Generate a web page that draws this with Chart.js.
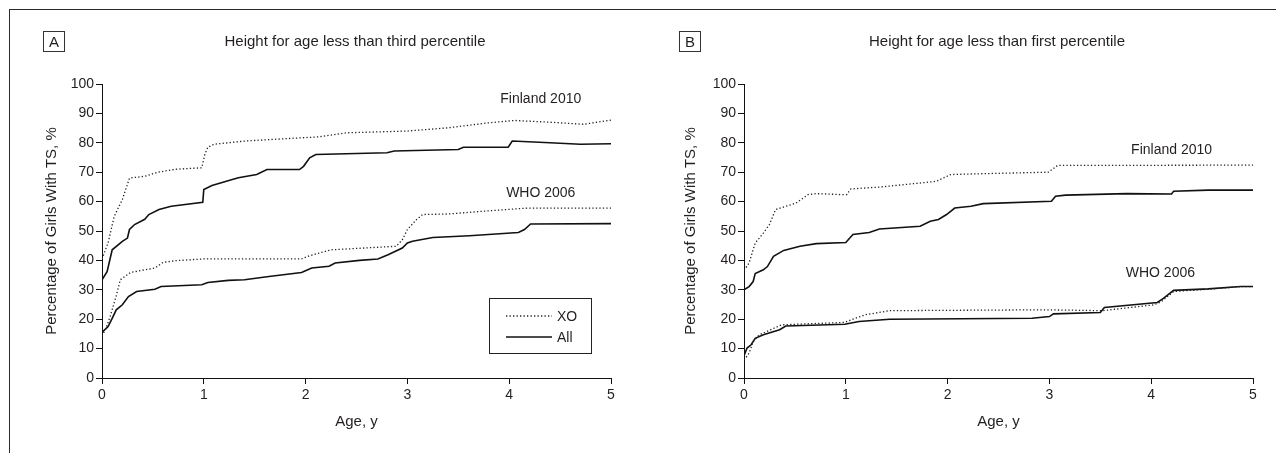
<!DOCTYPE html>
<html><head><meta charset="utf-8">
<script src="https://cdn.jsdelivr.net/npm/chart.js@4.4.0/dist/chart.umd.min.js"></script>
<style>
html,body{margin:0;padding:0;background:#fff;}
#wrap{position:relative;width:1276px;height:453px;overflow:hidden;background:#fff;}
#frame{position:absolute;left:9px;top:9px;width:1400px;height:600px;border-top:1.5px solid #2a2a2a;border-left:1.5px solid #2a2a2a;}
canvas{position:absolute;top:0;}
</style></head><body>
<div id="wrap"><div id="frame"></div>
<canvas id="cA" width="638" height="453" style="left:0px"></canvas>
<canvas id="cB" width="638" height="453" style="left:638px"></canvas>
</div>
<script>
// ---------- data ----------
const xTickValues = [0, 1, 2, 3, 4, 5];
const yTickValues = [0, 10, 20, 30, 40, 50, 60, 70, 80, 90, 100];
const seriesNames = ["XO", "All"];
const panelTitles = ["Height for age less than third percentile", "Height for age less than first percentile"];
const panelLetters = ["A", "B"];
const refLabels = ["Finland 2010", "WHO 2006"];

// Panel A
const aFinXO_x = [0, 0.06, 0.12, 0.2, 0.27, 0.42, 0.55, 0.72, 0.98, 1.01, 1.04, 1.1, 1.4, 1.8, 2.12, 2.4, 3.0, 3.4, 3.8, 4.05, 4.4, 4.73, 5];
const aFinXO_y = [40.5, 46, 55, 60.7, 68, 68.6, 70, 71, 71.5, 76, 78.5, 79.5, 80.6, 81.4, 82, 83.4, 84, 85.1, 86.8, 87.6, 87, 86.3, 87.7];
const aFinAll_x = [0, 0.05, 0.1, 0.2, 0.25, 0.27, 0.32, 0.42, 0.46, 0.56, 0.68, 0.99, 1.0, 1.08, 1.28, 1.34, 1.52, 1.62, 1.94, 1.98, 2.04, 2.1, 2.8, 2.87, 3.5, 3.55, 3.99, 4.03, 4.4, 4.7, 5];
const aFinAll_y = [33.4, 36.2, 43.6, 46.5, 47.6, 50.5, 52.2, 54, 55.6, 57.3, 58.4, 59.8, 64.1, 65.5, 67.5, 68.1, 69.2, 70.9, 70.9, 72, 74.9, 76, 76.6, 77.2, 77.7, 78.5, 78.5, 80.6, 80, 79.5, 79.7];
const aWhoXO_x = [0, 0.04, 0.08, 0.14, 0.18, 0.28, 0.42, 0.52, 0.6, 0.72, 1.0, 1.96, 2.04, 2.25, 2.41, 2.89, 2.95, 3.0, 3.09, 3.15, 3.41, 3.81, 4.05, 4.19, 5];
const aWhoXO_y = [14.3, 17, 20.9, 28, 33.4, 35.9, 36.8, 37.4, 39.3, 39.9, 40.5, 40.5, 41.6, 43.6, 43.9, 44.8, 47, 50.5, 53.9, 55.6, 55.8, 56.9, 57.5, 57.8, 57.8];
const aWhoAll_x = [0, 0.06, 0.1, 0.14, 0.2, 0.26, 0.34, 0.52, 0.58, 0.98, 1.04, 1.24, 1.4, 1.64, 1.96, 2.06, 2.23, 2.29, 2.53, 2.71, 2.81, 2.95, 3.0, 3.05, 3.13, 3.25, 3.61, 4.09, 4.15, 4.21, 5];
const aWhoAll_y = [15.5, 17.5, 20.3, 23.2, 24.9, 27.7, 29.4, 30.2, 31.1, 31.7, 32.5, 33.2, 33.4, 34.5, 35.9, 37.4, 38, 39.1, 40, 40.5, 41.9, 44.2, 45.9, 46.5, 47, 47.8, 48.4, 49.5, 50.5, 52.4, 52.5];

// Panel B
const bFinXO_x = [0, 0.05, 0.11, 0.19, 0.25, 0.31, 0.43, 0.51, 0.63, 0.71, 0.95, 1.01, 1.05, 1.35, 1.75, 1.89, 2.03, 2.35, 2.99, 3.08, 5];
const bFinXO_y = [36.6, 39.1, 45.9, 49.3, 52.2, 57.3, 58.6, 59.5, 62.4, 62.7, 62.4, 62.4, 64.3, 65, 66.4, 66.9, 69.2, 69.5, 70, 72.3, 72.4];
const bFinAll_x = [0, 0.05, 0.09, 0.11, 0.19, 0.23, 0.29, 0.39, 0.55, 0.71, 1.0, 1.07, 1.23, 1.33, 1.73, 1.83, 1.91, 1.99, 2.07, 2.23, 2.35, 3.02, 3.06, 3.16, 3.76, 4.2, 4.22, 4.56, 5];
const bFinAll_y = [30, 31.1, 32.8, 35.5, 36.8, 37.9, 41.4, 43.4, 44.8, 45.7, 46.1, 48.8, 49.5, 50.7, 51.6, 53.3, 53.9, 55.6, 57.8, 58.4, 59.3, 60.1, 61.8, 62.2, 62.7, 62.6, 63.5, 63.9, 63.9];
const bWhoXO_x = [0, 0.05, 0.09, 0.15, 0.37, 0.99, 1.07, 1.19, 1.43, 2.96, 3.52, 4.03, 4.1, 4.22, 4.56, 4.88, 5];
const bWhoXO_y = [6.1, 8.4, 12.4, 14.7, 18.1, 18.9, 20, 21.5, 22.9, 23.2, 22.9, 24.9, 26, 29.4, 30.2, 31.1, 31.1];
const bWhoAll_x = [0, 0.03, 0.07, 0.11, 0.19, 0.35, 0.41, 0.99, 1.13, 1.43, 2.83, 3.0, 3.04, 3.5, 3.54, 4.06, 4.12, 4.22, 4.56, 4.88, 5];
const bWhoAll_y = [7.6, 10.2, 11.3, 13.5, 14.7, 16.4, 17.7, 18.3, 19.2, 20, 20.3, 20.9, 21.8, 22.3, 24, 25.7, 27.1, 29.8, 30.3, 31.1, 31.1];

// reference-label anchor positions (data units)
const aNoteX = [4.31, 4.31], aNoteY = [95, 63];
const bNoteX = [4.2, 4.09], bNoteY = [77.5, 35.7];

// ---------- styling ----------
const FONT = "'Liberation Sans', Arial, 'Helvetica', sans-serif";
const TXT = '#231f20';
const pts = (xs, ys) => xs.map((x, i) => ({x: x, y: ys[i]}));
const dotted = {borderColor: '#222', borderWidth: 1.3, borderDash: [1.3, 2.2], pointRadius: 0, tension: 0, fill: false};
const solid = {borderColor: '#111', borderWidth: 1.6, pointRadius: 0, tension: 0, fill: false};

const deco = {
  id: 'deco',
  afterDraw(chart, args, o) {
    const ctx = chart.ctx, xs = chart.scales.x, ys = chart.scales.y;
    ctx.save();
    ctx.fillStyle = TXT;
    ctx.textAlign = 'center';
    ctx.textBaseline = 'middle';
    ctx.font = '15px ' + FONT;
    ctx.fillText(o.title, o.titleX, o.titleY);
    ctx.strokeStyle = '#333';
    ctx.lineWidth = 1;
    ctx.strokeRect(o.boxX + 0.5, o.boxY + 0.5, 21, 20);
    ctx.fillText(o.letter, o.boxX + 11, o.boxY + 11.5);
    ctx.font = '14px ' + FONT;
    o.notes.forEach(n => ctx.fillText(n.text, xs.getPixelForValue(n.x), ys.getPixelForValue(n.y)));
    if (o.legend) {
      const L = o.legend;
      ctx.strokeStyle = '#222';
      ctx.lineWidth = 1;
      ctx.strokeRect(L.x + 0.5, L.y + 0.5, L.w, L.h);
      const ds = chart.data.datasets;
      [ds[0], ds[1]].forEach((d, i) => {
        const yy = L.y + 18 + i * 21;
        ctx.beginPath();
        ctx.setLineDash(d.borderDash || []);
        ctx.lineWidth = d.borderWidth;
        ctx.strokeStyle = d.borderColor;
        ctx.moveTo(L.x + 17, yy);
        ctx.lineTo(L.x + 63, yy);
        ctx.stroke();
        ctx.setLineDash([]);
        ctx.textAlign = 'left';
        ctx.fillText(seriesNames[i], L.x + 68, yy + 1);
      });
    }
    ctx.restore();
  }
};

function makeChart(id, datasets, cfg) {
  return new Chart(document.getElementById(id), {
    type: 'line',
    data: {datasets: datasets},
    plugins: [deco],
    options: {
      responsive: false,
      animation: false,
      layout: {padding: {left: cfg.padLeft, right: cfg.padRight, top: 84, bottom: 0}},
      plugins: {legend: {display: false}, tooltip: {enabled: false}, title: {display: false}, deco: cfg.deco},
      scales: {
        x: {
          type: 'linear', min: 0, max: 5,
          afterBuildTicks: s => { s.ticks = xTickValues.map(v => ({value: v})); },
          afterFit: s => { s.height = 75; },
          border: {display: true, color: '#111', width: 1},
          grid: {drawOnChartArea: false, drawTicks: true, tickLength: 6, color: '#111'},
          ticks: {color: TXT, font: {family: FONT, size: 14}, padding: 3, maxRotation: 0},
          title: {display: true, text: 'Age, y', color: TXT, font: {family: FONT, size: 15}, padding: {top: 0, bottom: 22}}
        },
        y: {
          type: 'linear', min: 0, max: 100,
          afterBuildTicks: s => { s.ticks = yTickValues.map(v => ({value: v})); },
          afterFit: s => { s.width = cfg.yWidth; },
          border: {display: true, color: '#111', width: 1},
          grid: {drawOnChartArea: false, drawTicks: true, tickLength: 6, color: '#111'},
          ticks: {color: TXT, font: {family: FONT, size: 14}, padding: 2},
          title: {display: true, text: 'Percentage of Girls With TS, %', color: TXT, font: {family: FONT, size: 15}, padding: {top: cfg.yTitlePad, bottom: 0}}
        }
      }
    }
  });
}

makeChart('cA', [
  Object.assign({label: 'XO Finland 2010', data: pts(aFinXO_x, aFinXO_y)}, dotted),
  Object.assign({label: 'All Finland 2010', data: pts(aFinAll_x, aFinAll_y)}, solid),
  Object.assign({label: 'XO WHO 2006', data: pts(aWhoXO_x, aWhoXO_y)}, dotted),
  Object.assign({label: 'All WHO 2006', data: pts(aWhoAll_x, aWhoAll_y)}, solid)
], {
  padLeft: 42, padRight: 27, yWidth: 60, yTitlePad: 1,
  deco: {title: panelTitles[0], titleX: 355, titleY: 42, letter: panelLetters[0], boxX: 43, boxY: 31,
    notes: refLabels.map((t, i) => ({text: t, x: aNoteX[i], y: aNoteY[i]})),
    legend: {x: 489, y: 298, w: 102, h: 55}}
});

makeChart('cB', [
  Object.assign({label: 'XO Finland 2010', data: pts(bFinXO_x, bFinXO_y)}, dotted),
  Object.assign({label: 'All Finland 2010', data: pts(bFinAll_x, bFinAll_y)}, solid),
  Object.assign({label: 'XO WHO 2006', data: pts(bWhoXO_x, bWhoXO_y)}, dotted),
  Object.assign({label: 'All WHO 2006', data: pts(bWhoAll_x, bWhoAll_y)}, solid)
], {
  padLeft: 44, padRight: 23, yWidth: 62, yTitlePad: 0,
  deco: {title: panelTitles[1], titleX: 359, titleY: 42, letter: panelLetters[1], boxX: 41, boxY: 31,
    notes: refLabels.map((t, i) => ({text: t, x: bNoteX[i], y: bNoteY[i]})),
    legend: null}
});
</script>
</body></html>
